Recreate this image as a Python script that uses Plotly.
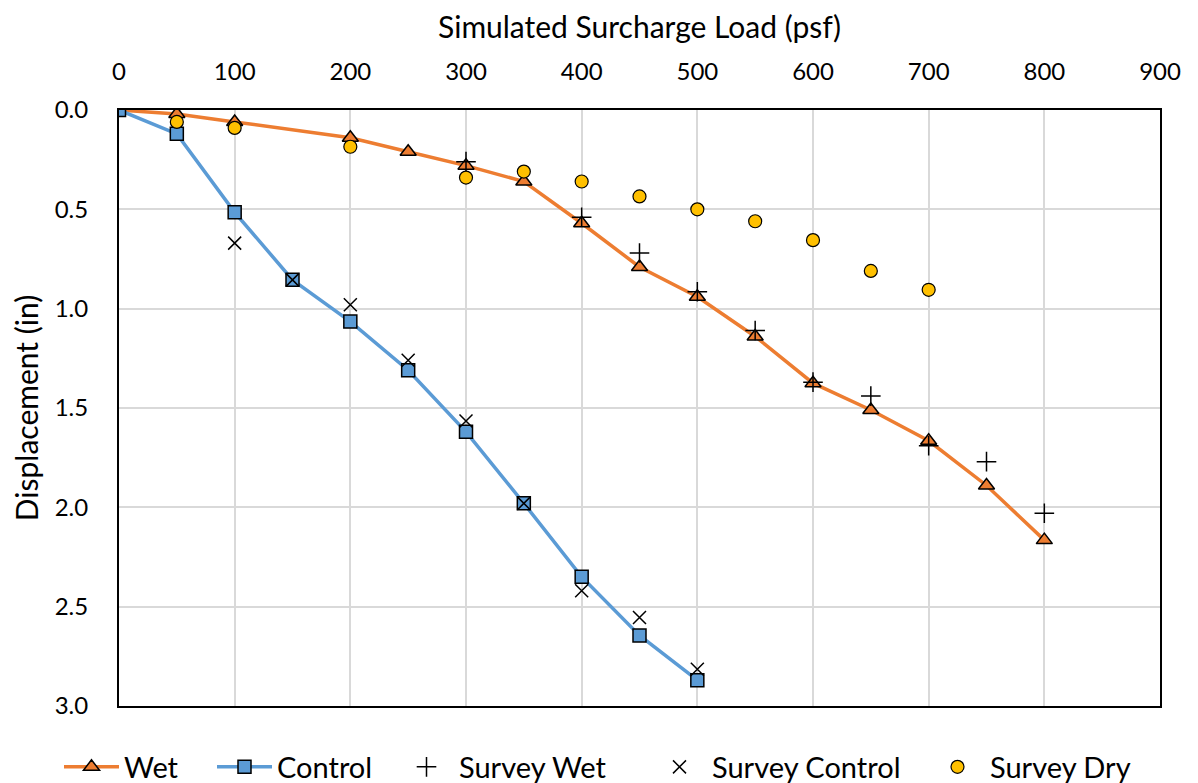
import plotly.graph_objects as go

# Loads (psf)
wet_x = [0, 50, 100, 200, 250, 300, 350, 400, 450, 500, 550, 600, 650, 700, 750, 800]
wet_y = [0, 0.02, 0.06, 0.14, 0.21, 0.28, 0.36, 0.57, 0.79, 0.94, 1.14, 1.375, 1.51, 1.665, 1.89, 2.165]

control_x = [0, 50, 100, 150, 200, 250, 300, 350, 400, 450, 500]
control_y = [0, 0.12, 0.515, 0.855, 1.065, 1.31, 1.62, 1.98, 2.35, 2.645, 2.87]

swet_x = [300, 400, 450, 500, 550, 600, 650, 700, 750, 800]
swet_y = [0.26, 0.54, 0.72, 0.915, 1.11, 1.37, 1.44, 1.69, 1.77, 2.03]

sctrl_x = [100, 150, 200, 250, 300, 350, 400, 450, 500]
sctrl_y = [0.67, 0.855, 0.98, 1.26, 1.565, 1.98, 2.42, 2.555, 2.815]

sdry_x = [50, 100, 200, 300, 350, 400, 450, 500, 550, 600, 650, 700]
sdry_y = [0.06, 0.09, 0.185, 0.34, 0.31, 0.36, 0.435, 0.50, 0.56, 0.655, 0.81, 0.905]

FONT = "Lato"
W, H = 1198, 783
L, R, T, B = 111, 46, 102, 85
PW, PH = W - L - R, H - T - B

fig = go.Figure()

fig.add_trace(go.Scatter(
    x=wet_x, y=wet_y, name="Wet", mode="lines+markers", legend="legend",
    line=dict(color="#ED7D31", width=3.5),
    marker=dict(symbol="triangle-up", size=14, color="#ED7D31",
                line=dict(color="black", width=1.5)),
))
fig.add_trace(go.Scatter(
    x=control_x, y=control_y, name="Control", mode="lines+markers", legend="legend2",
    line=dict(color="#5B9BD5", width=3.5),
    marker=dict(symbol="square", size=13, color="#5B9BD5",
                line=dict(color="black", width=1.5)),
))
fig.add_trace(go.Scatter(
    x=swet_x, y=swet_y, name="Survey Wet", mode="markers", legend="legend3",
    marker=dict(symbol="cross-thin", size=14, color="black",
                line=dict(color="black", width=1.5)),
))
fig.add_trace(go.Scatter(
    x=sctrl_x, y=sctrl_y, name="Survey Control", mode="markers", legend="legend4",
    marker=dict(symbol="x-thin", size=13, color="black",
                line=dict(color="black", width=1.5)),
))
fig.add_trace(go.Scatter(
    x=sdry_x, y=sdry_y, name="Survey Dry", mode="markers", legend="legend5",
    marker=dict(symbol="circle", size=13, color="#FFC000",
                line=dict(color="black", width=1.2)),
))

# one legend box per entry so the spacing matches the original (positions in figure px)
leg_px = [51, 204, 386, 639, 917]
legends = {}
for i, px in enumerate(leg_px):
    key = "legend" if i == 0 else f"legend{i + 1}"
    legends[key] = dict(x=(px - L) / PW, xref="paper",
                        y=1 - 759 / H, yref="container",
                        xanchor="left", yanchor="middle",
                        font=dict(size=29), itemwidth=55, bgcolor="rgba(0,0,0,0)")

fig.update_layout(
    width=W, height=H,
    paper_bgcolor="white", plot_bgcolor="white",
    font=dict(family=FONT, size=24, color="black"),
    margin=dict(l=L, r=R, t=T, b=B),
    showlegend=True,
    **legends,
)

fig.update_xaxes(
    side="top", range=[0, 900], dtick=100, tick0=0,
    title=dict(text="Simulated Surcharge Load (psf)", font=dict(size=30), standoff=17),
    showgrid=True, gridcolor="#d9d9d9", gridwidth=1.5,
    showline=True, linecolor="black", linewidth=2, mirror=True,
    zeroline=False, ticks="", tickfont=dict(size=24), ticklabelstandoff=18,
    automargin=False,
)
fig.update_yaxes(
    range=[3, 0], dtick=0.5, tick0=0, tickformat=".1f",
    title=dict(text="Displacement (in)", font=dict(size=30), standoff=21),
    showgrid=True, gridcolor="#d9d9d9", gridwidth=1.5,
    showline=True, linecolor="black", linewidth=2, mirror=True,
    zeroline=False, ticks="", tickfont=dict(size=24), ticklabelstandoff=24,
    automargin=False,
)

fig.write_html("out.html")
